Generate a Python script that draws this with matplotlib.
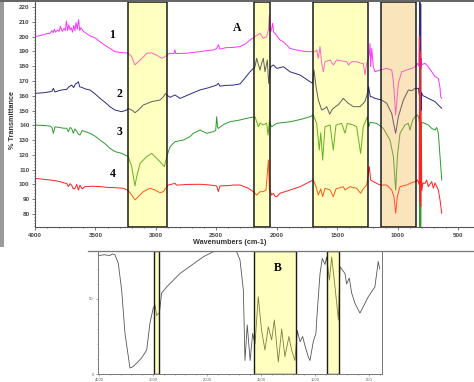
import numpy as np
import matplotlib
matplotlib.use("Agg")
import matplotlib.pyplot as plt
from matplotlib.patches import Rectangle
from matplotlib.lines import Line2D

plt.rcParams['font.family'] = ['Liberation Sans', 'DejaVu Sans']

# ---------------- Panel A data (wavenumber, %T) ----------------
wn1 = [4000, 3940, 3900, 3876, 3860, 3850, 3840, 3830, 3815, 3800, 3790, 3775, 3760, 3750, 3740, 3730, 3720, 3710,
       3700, 3690, 3680, 3670, 3660, 3650, 3640, 3630, 3620, 3600, 3580, 3545, 3500, 3462, 3420, 3380, 3338, 3297,
       3260, 3228, 3200, 3185, 3173, 3160, 3131, 3100, 3076, 3035, 2993, 2952, 2924, 2910, 2883, 2850, 2842, 2835,
       2800, 2745, 2690, 2635, 2580, 2520, 2497, 2483, 2470, 2420, 2359, 2304, 2260, 2221, 2180, 2138, 2111, 2083,
       2068, 2061, 2055, 2050, 2040, 2034, 2026, 2014, 1973, 1945, 1890, 1835, 1752, 1711, 1683, 1670, 1656, 1642,
       1628, 1614, 1601, 1580, 1559, 1532, 1504, 1460, 1421, 1407, 1380, 1339, 1300, 1284, 1270, 1256, 1240, 1234,
       1228, 1223, 1214, 1201, 1187, 1146, 1090, 1049, 1035, 1021, 1016, 1008, 994, 966, 925, 883, 856, 836, 825,
       818, 815, 812, 808, 804, 800, 773, 746, 718, 690, 663, 650, 644, 635]
s1 = [200.0, 201.0, 202.0, 202.2, 204.0, 202.5, 205.0, 203.0, 204.5, 203.5, 207.0, 203.5, 205.5, 204.0, 210.5, 204.0,
      208.0, 204.5, 206.0, 203.0, 207.5, 204.0, 209.5, 205.0, 211.5, 204.0, 206.0, 203.5, 202.5, 200.5, 199.0, 196.5,
      194.0, 192.0, 189.8, 189.3, 189.0, 188.8, 186.4, 183.0, 180.8, 182.0, 184.0, 186.5, 188.7, 189.0, 187.5, 185.3,
      186.4, 187.5, 188.7, 188.5, 191.0, 188.5, 188.7, 188.7, 189.3, 189.8, 190.5, 191.0, 192.0, 194.5, 191.5, 192.5,
      192.7, 193.2, 195.0, 197.7, 199.9, 202.2, 198.8, 200.0, 205.0, 214.6, 204.0, 203.3, 206.0, 209.0, 203.0, 202.2,
      197.7, 196.5, 192.0, 190.9, 189.8, 189.8, 189.8, 190.9, 185.3, 193.2, 181.9, 176.2, 183.0, 183.5, 184.2, 180.8,
      184.2, 183.5, 183.0, 180.8, 183.0, 183.0, 181.9, 181.9, 174.0, 181.9, 186.0, 188.7, 195.4, 179.6, 192.0, 179.6,
      176.2, 177.4, 178.5, 177.4, 170.0, 152.6, 147.0, 155.0, 168.4, 176.2, 177.4, 178.5, 179.6, 181.9, 180.0, 215.0,
      175.0, 210.0, 178.0, 185.0, 181.0, 181.9, 179.6, 176.2, 172.9, 171.7, 166.0, 159.4, 158.2]

wn2 = [4000, 3930, 3876, 3860, 3848, 3835, 3800, 3770, 3738, 3720, 3697, 3680, 3665, 3655, 3641, 3630, 3614, 3580,
       3545, 3500, 3462, 3420, 3380, 3338, 3283, 3242, 3228, 3200, 3185, 3173, 3145, 3104, 3035, 2966, 2938, 2920,
       2910, 2883, 2842, 2800, 2720, 2635, 2560, 2497, 2483, 2470, 2420, 2359, 2304, 2276, 2221, 2180, 2166, 2152,
       2138, 2125, 2111, 2097, 2078, 2067, 2058, 2050, 2028, 2000, 1945, 1890, 1807, 1725, 1703, 1692, 1675, 1656,
       1628, 1600, 1587, 1562, 1545, 1532, 1490, 1449, 1410, 1366, 1311, 1270, 1250, 1240, 1234, 1225, 1214, 1187,
       1132, 1090, 1049, 1030, 1016, 1005, 994, 952, 911, 883, 856, 828, 820, 816, 812, 809, 806, 802, 790, 773,
       746, 718, 690, 663, 635]
s2 = [161.6, 162.0, 162.7, 163.0, 165.0, 162.5, 163.5, 164.0, 164.3, 166.0, 167.2, 165.5, 168.0, 168.4, 169.5, 166.0,
      165.7, 164.5, 163.9, 161.0, 158.2, 155.5, 152.6, 150.3, 149.2, 150.3, 151.4, 150.3, 149.5, 148.5, 150.3, 153.7,
      156.0, 157.1, 159.3, 161.5, 160.5, 158.9, 160.5, 158.2, 161.0, 163.9, 165.5, 167.2, 168.4, 166.5, 167.0, 167.2,
      168.0, 170.6, 176.2, 179.6, 185.3, 181.0, 177.4, 182.0, 185.3, 176.2, 184.2, 168.4, 176.0, 179.6, 180.8, 178.5,
      179.6, 176.2, 174.0, 169.5, 168.4, 177.4, 166.1, 157.1, 150.3, 151.5, 152.6, 147.5, 150.3, 151.5, 154.0, 158.2,
      155.0, 152.6, 152.6, 156.0, 161.6, 166.1, 163.0, 159.3, 159.3, 158.2, 157.1, 154.8, 148.1, 140.0, 134.6, 140.0,
      145.8, 157.1, 163.9, 163.4, 165.0, 165.0, 160.0, 224.0, 140.0, 222.0, 150.0, 162.0, 160.0, 159.4, 158.2, 157.1,
      156.0, 153.7, 151.5]

wn3 = [4000, 3920, 3876, 3860, 3848, 3834, 3800, 3760, 3738, 3724, 3710, 3697, 3683, 3670, 3655, 3640, 3628, 3610,
       3586, 3545, 3500, 3462, 3420, 3380, 3338, 3283, 3228, 3200, 3186, 3173, 3159, 3131, 3104, 3076, 3035, 2993,
       2952, 2930, 2910, 2883, 2842, 2773, 2718, 2690, 2635, 2580, 2525, 2505, 2497, 2489, 2483, 2440, 2387, 2304,
       2249, 2180, 2152, 2138, 2111, 2083, 2072, 2061, 2042, 2000, 1890, 1800, 1725, 1697, 1670, 1648, 1636, 1620,
       1601, 1559, 1532, 1510, 1463, 1435, 1416, 1366, 1339, 1306, 1284, 1250, 1239, 1228, 1173, 1118, 1063, 1035,
       1016, 1002, 980, 939, 911, 898, 875, 856, 834, 822, 818, 815, 812, 809, 805, 800, 773, 746, 718, 690, 677,
       663, 649, 635]
s3 = [140.2, 139.8, 139.5, 138.5, 134.6, 139.0, 138.5, 138.0, 138.0, 135.7, 138.5, 137.9, 134.6, 137.5, 136.0, 134.0,
      133.4, 136.5, 135.7, 134.6, 132.5, 130.0, 127.5, 124.4, 122.2, 121.0, 118.8, 112.0, 105.2, 99.0, 105.2, 114.2,
      116.5, 118.8, 121.0, 117.6, 114.2, 112.0, 118.8, 125.5, 128.9, 130.0, 132.3, 134.6, 136.8, 134.6, 135.7, 136.5,
      145.8, 138.5, 137.9, 140.5, 142.4, 143.6, 144.7, 145.8, 139.0, 141.5, 140.2, 141.5, 133.4, 142.0, 139.0, 141.3,
      142.4, 144.0, 145.8, 147.0, 141.3, 123.3, 135.0, 116.5, 139.0, 140.2, 123.3, 140.2, 141.3, 134.6, 141.3, 140.2,
      139.0, 121.0, 139.0, 145.8, 139.0, 142.0, 141.3, 137.9, 130.0, 118.8, 96.2, 118.8, 134.6, 140.2, 141.3, 136.8,
      143.6, 145.8, 147.0, 144.0, 140.0, 70.0, 150.0, 60.0, 135.0, 142.0, 141.3, 140.2, 137.9, 136.8, 138.5, 134.6,
      118.8, 103.0]

wn4 = [4000, 3930, 3876, 3830, 3793, 3760, 3738, 3724, 3710, 3697, 3683, 3669, 3655, 3641, 3628, 3610, 3586, 3520,
       3462, 3400, 3338, 3269, 3228, 3200, 3173, 3145, 3104, 3049, 3007, 2966, 2938, 2910, 2897, 2842, 2828, 2740,
       2635, 2540, 2497, 2483, 2470, 2400, 2359, 2304, 2235, 2194, 2166, 2138, 2111, 2089, 2069, 2061, 2042, 2028,
       2014, 2000, 1973, 1890, 1807, 1725, 1697, 1675, 1656, 1636, 1620, 1601, 1559, 1532, 1510, 1449, 1435, 1394,
       1339, 1306, 1284, 1256, 1234, 1223, 1201, 1146, 1090, 1049, 1030, 1016, 1002, 980, 925, 883, 856, 836, 822,
       818, 815, 812, 809, 805, 800, 790, 773, 760, 746, 718, 704, 690, 663, 649, 635]
s4 = [104.1, 103.5, 103.0, 102.5, 101.9, 101.0, 100.7, 98.5, 100.5, 99.5, 97.0, 97.4, 100.0, 96.2, 99.5, 97.0, 98.5,
      98.8, 98.5, 98.0, 97.8, 97.4, 95.8, 92.8, 89.5, 91.7, 95.1, 97.4, 96.2, 94.4, 95.1, 98.5, 99.6, 100.7, 99.5,
      100.0, 100.1, 99.5, 99.0, 95.1, 99.0, 99.2, 99.6, 99.6, 97.4, 95.1, 92.8, 95.1, 95.1, 96.2, 116.5, 97.0, 92.8,
      94.0, 92.0, 91.7, 94.0, 96.2, 98.5, 101.9, 103.0, 98.5, 92.8, 97.0, 91.7, 97.4, 96.2, 91.7, 97.0, 98.5, 96.2,
      98.5, 97.4, 94.0, 97.0, 99.6, 112.0, 103.0, 101.9, 99.6, 99.6, 96.2, 91.7, 80.5, 92.0, 98.5, 99.6, 101.2, 101.9,
      103.0, 100.0, 200.0, 88.0, 190.0, 85.0, 150.0, 96.0, 101.0, 100.7, 103.0, 98.5, 101.9, 97.5, 101.0, 96.2, 89.5,
      80.5]

colors_A = ['#ff33ff', '#2b2b80', '#2e9a2e', '#ff2020']
curve_labels = ['1', '2', '3', '4']
label_pos_wn = [3365, 3302, 3305, 3360]
label_pos_val = [201, 161, 135.3, 107]

# highlight regions in panel A (wavenumber ranges)
boxesA = [(3230, 2910), (2190, 2055), (1700, 1245)]
boxA_orange = (1140, 850)

# ---------------- Panel B data ----------------
wnB = [4000, 3900, 3800, 3750, 3704, 3642, 3580, 3518, 3426, 3364, 3210, 3116, 3056, 2994, 2962, 2932, 2880, 2840,
       2747, 2500, 2190, 2050, 1942, 1800, 1725, 1694, 1663, 1648, 1627, 1600, 1577, 1555, 1525, 1494, 1463, 1432,
       1401, 1376, 1339, 1308, 1278, 1241, 1216, 1185, 1163, 1138, 1114, 1093, 1062, 1046, 1015, 991, 982, 953, 932,
       907, 892, 866, 845, 814, 783, 768, 722, 707, 682, 660, 629, 583, 552, 506, 445, 414, 400]
sB = [79.0, 79.5, 79.0, 80.0, 79.5, 73.7, 56.0, 27.0, 4.0, 5.0, 10.7, 16.0, 34.0, 44.0, 46.0, 39.0, 41.0, 54.0, 58.0,
      67.0, 75.0, 78.5, 81.5, 82.0, 81.5, 76.0, 56.0, 9.0, 32.7, 9.0, 27.0, 20.0, 51.5, 29.0, 16.0, 31.5, 22.7, 36.0,
      8.0, 30.0, 11.5, 25.0, 16.0, 9.0, 29.0, 21.5, 25.0, 19.0, 11.5, 9.0, 21.7, 27.0, 38.0, 67.0, 77.0, 73.0, 78.0,
      62.7, 78.0, 58.0, 36.0, 71.5, 67.0, 60.0, 64.0, 54.0, 47.0, 40.6, 45.0, 51.5, 58.0, 75.0, 70.0]
boxesB = [(2976, 2884), (1562, 1180), (892, 775)]


def fwd(x):
    x = np.asarray(x, dtype=float)
    return np.where(x > 2000, 2000 + (x - 2000) / 2.0, x)


def inv(t):
    t = np.asarray(t, dtype=float)
    return np.where(t > 2000, 2000 + 2.0 * (t - 2000), t)


W, H = 474, 382
fig = plt.figure(figsize=(W / 100, H / 100), dpi=100)

# ---------------- Panel A ----------------
axA = fig.add_axes([35 / W, 1 - 227 / H, (W - 35) / W, 225 / H])
for wn, s, c in zip([wn1, wn2, wn3, wn4], [s1, s2, s3, s4], colors_A):
    axA.plot(wn, s, color=c, lw=0.7, zorder=2)
for lo, hi in boxesA:
    axA.axvspan(hi, lo, facecolor=(1, 1, 0, 0.25), edgecolor='#1a1a1a', lw=1.1, zorder=3)
axA.axvspan(boxA_orange[1], boxA_orange[0], facecolor=(0.94, 0.70, 0.24, 0.35), edgecolor='#1a1a1a', lw=1.1, zorder=3)
axA.set_xlim(4000, 368)
axA.set_ylim(71.2, 223.4)
axA.set_xticks([4000, 3500, 3000, 2500, 2000, 1500, 1000, 500])
axA.set_xticks(np.arange(600, 4000, 100), minor=True)
axA.set_yticks(np.arange(80, 221, 10))
axA.set_yticks(np.arange(72, 223, 2), minor=True)
for sp in ['top', 'right']:
    axA.spines[sp].set_visible(False)
for sp in ['left', 'bottom']:
    axA.spines[sp].set_color('#555555')
    axA.spines[sp].set_linewidth(0.8)
axA.tick_params(which='both', labelsize=4.5, length=2, width=0.5, colors='#444444', pad=2)
axA.tick_params(which='minor', length=1)
for lab in axA.get_xticklabels() + axA.get_yticklabels():
    lab.set_fontweight('bold')
for t, x, y in zip(curve_labels, label_pos_wn, label_pos_val):
    axA.text(x, y, t, fontsize=8.5, fontweight='bold', family='Liberation Serif', ha='center', va='center', zorder=5)
axA.text(2326, 205.6, 'A', fontsize=8.5, fontweight='bold', family='Liberation Serif', ha='center', va='center', zorder=5)
fig.text(230 / W, 1 - 243 / H, 'Wavenumbers (cm-1)', fontsize=5.2, fontweight='bold', ha='center', va='center',
         color='#333333')
fig.text(13 / W, 1 - 120 / H, '% Transmittance', fontsize=5.2, fontweight='bold', ha='center', va='center',
         rotation=90, color='#333333')

# ---------------- Panel B ----------------
axB = fig.add_axes([98 / W, 1 - 374 / H, 284 / W, 123 / H])
axB.set_xscale('function', functions=(fwd, inv))
axB.plot(wnB, sB, color='#555555', lw=0.6, zorder=2)
for lo, hi in boxesB:
    axB.axvspan(hi, lo, facecolor=(1, 1, 0, 0.25), edgecolor='#1a1a1a', lw=1.0, zorder=3)
axB.set_xlim(4018, 379)
axB.set_ylim(0, 82)
axB.set_xticks([4000, 3000, 2000, 1500, 1000, 500])
axB.set_xticks([3800, 3600, 3400, 3200, 2800, 2600, 2400, 2200, 1900, 1800, 1700, 1600, 1400, 1300, 1200, 1100,
                900, 800, 700, 600, 400], minor=True)
axB.set_yticks([0, 50])
axB.set_yticks(np.arange(10, 81, 10), minor=True)
axB.spines['top'].set_visible(False)
for sp in ['left', 'bottom', 'right']:
    axB.spines[sp].set_color('#777777')
    axB.spines[sp].set_linewidth(0.7)
axB.tick_params(which='both', labelsize=3, length=1.5, width=0.4, colors='#666666', pad=1.5)
axB.tick_params(which='minor', length=1)
axB.text(1345, 70.5, 'B', fontsize=8.5, fontweight='bold', family='Liberation Serif', ha='center', va='center', zorder=5)

# screenshot frame elements
fig.add_artist(Line2D([88 / W, 1.0], [1 - 251 / H, 1 - 251 / H], color='#777777', lw=0.9))
fig.add_artist(Rectangle((0, 1 - 247 / H), 4 / W, 247 / H, color='#9a9a9a', lw=0))
fig.add_artist(Rectangle((0, 1 - 1.5 / H), 1, 1.5 / H, color='#666666', lw=0))

fig.savefig('out.png', dpi=100)
